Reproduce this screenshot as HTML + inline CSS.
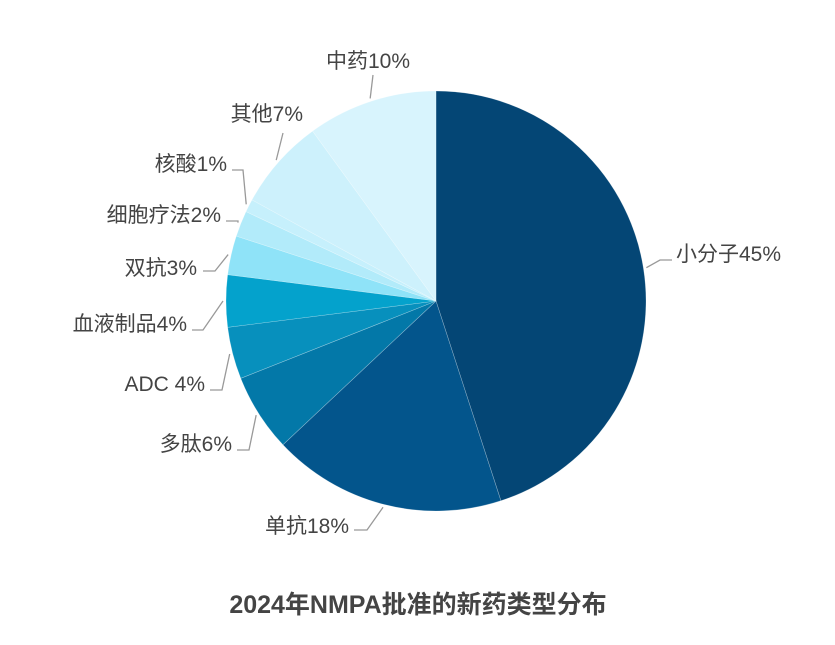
<!DOCTYPE html>
<html><head><meta charset="utf-8"><style>
body{margin:0;background:#fff;width:835px;height:640px;overflow:hidden;font-family:"Liberation Sans","Noto Sans CJK SC",sans-serif}
svg text{font-family:"Liberation Sans","Noto Sans CJK SC",sans-serif}
</style></head><body>
<svg id="c" width="835" height="640">
<g id="slices"></g>
<g id="labels"></g>
<text x="418" y="613" text-anchor="middle" font-size="25" font-weight="bold" fill="#444">2024年NMPA批准的新药类型分布</text>
</svg>
<script>
const categories=["小分子","单抗","多肽","ADC ","血液制品","双抗","细胞疗法","核酸","其他","中药"];
const values=[45,18,6,4,4,3,2,1,7,10];
const colors=["#044675","#03558c","#0378a8","#0790bd","#04a2cc","#8fe3f8","#b2ebfa","#c6f0fc","#cdf1fc","#d8f4fd"];
const labelPos=[[676,260,"start",[[672,260],[660,260]]],[349,532,"end",[[354,530],[367,530]]],[232,450,"end",[[237,450],[249,450]]],[205,390,"end",[[210,390],[222,390]]],[187,330,"end",[[192,330],[203,330]]],[197,274,"end",[[203,271],[215,271]]],[221,221,"end",[[226,221],[238,221]]],[227,170,"end",[[232,170],[243,170]]],[303,120,"end",[[283,133],[283,133]]],[368,67,"middle",[[373,75],[373,75]]]];
const cx=436,cy=301,r=210;
const ns="http://www.w3.org/2000/svg";
const total=values.reduce((a,b)=>a+b,0);
let a0=0;
const sg=document.getElementById('slices'),lg=document.getElementById('labels');
values.forEach((v,i)=>{
 const a1=a0+v/total*2*Math.PI;
 const p=(a)=>[cx+r*Math.sin(a),cy-r*Math.cos(a)];
 const [x0,y0]=p(a0),[x1,y1]=p(a1);
 const path=document.createElementNS(ns,'path');
 path.setAttribute('d',`M${cx},${cy}L${x0},${y0}A${r},${r} 0 ${a1-a0>Math.PI?1:0} 1 ${x1},${y1}Z`);
 path.setAttribute('fill',colors[i]);
 path.setAttribute('stroke','rgba(255,255,255,0.35)');
 path.setAttribute('stroke-width','0.6');
 
 
 sg.appendChild(path);
 const am=(a0+a1)/2;
 const ex=cx+(r+3)*Math.sin(am),ey=cy-(r+3)*Math.cos(am);
 const L=labelPos[i];
 const pl=document.createElementNS(ns,'polyline');
 pl.setAttribute('points',`${L[3][0][0]},${L[3][0][1]} ${L[3][1][0]},${L[3][1][1]} ${ex},${ey}`);
 pl.setAttribute('fill','none');pl.setAttribute('stroke','#999');pl.setAttribute('stroke-width','1.3');
 
 
 lg.appendChild(pl);
 const t=document.createElementNS(ns,'text');
 t.setAttribute('x',L[0]);t.setAttribute('y',L[1]+1);t.setAttribute('text-anchor',L[2]);
 t.setAttribute('font-size','21');t.setAttribute('fill','#444');
 t.textContent=categories[i]+Math.round(v/total*100)+'%';
 
 
 lg.appendChild(t);
 a0=a1;
});
</script>
</body></html>
